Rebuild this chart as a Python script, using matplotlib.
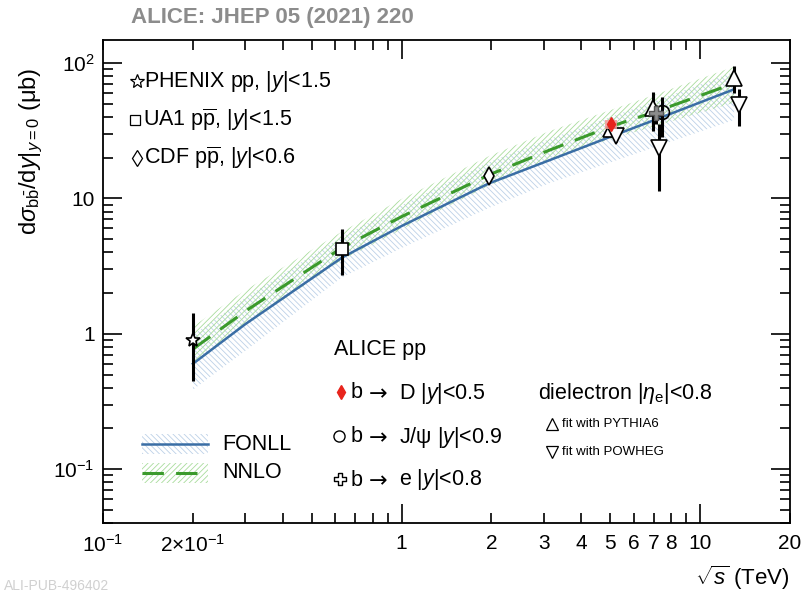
import matplotlib.pyplot as plt
from matplotlib.patches import Rectangle
from matplotlib.ticker import FixedLocator, NullFormatter

plt.rcParams['font.family'] = ['Liberation Sans', 'DejaVu Sans']
plt.rcParams['mathtext.fontset'] = 'custom'
plt.rcParams['mathtext.rm'] = 'Liberation Sans'
plt.rcParams['mathtext.it'] = 'Liberation Sans:italic'
plt.rcParams['mathtext.sf'] = 'Liberation Sans'
plt.rcParams['hatch.linewidth'] = 0.6

# theory curves (sqrt(s) in TeV, cross section in microbarn)
sqrt_s_th = [0.2, 0.3, 0.63, 1.0, 1.96, 3.14, 5.02, 7.0, 13.0]
nnlo = [0.77, 1.47, 4.31, 7.33, 14.9, 22.8, 34.0, 43.3, 70.8]
nnlo_hi = [1.13, 2.10, 5.66, 9.9, 20.5, 31.5, 45.0, 58.0, 94.0]
nnlo_lo = [0.60, 1.16, 3.50, 5.9, 12.4, 19.2, 27.5, 34.0, 51.0]
fonll = [0.60, 1.18, 3.64, 6.25, 12.9, 19.2, 28.6, 37.8, 64.0]
fonll_hi = [0.98, 1.85, 5.20, 8.9, 18.5, 27.5, 40.0, 52.0, 86.0]
fonll_lo = [0.386, 0.75, 2.60, 4.3, 8.5, 13.0, 18.5, 23.8, 38.0]

# previous experiments
phenix_x, phenix_y, phenix_eh, phenix_el = [0.2], [0.90], [0.53], [0.45]
ua1_x, ua1_y, ua1_eh, ua1_el = [0.63], [4.24], [1.71], [1.52]
cdf_x, cdf_y, cdf_e = [1.96], [14.6], [1.5]

# ALICE
bD_x, bD_y, bD_e = [5.02], [35.4], [1.2]
bD_syst_lo, bD_syst_hi = [32.8], [38.0]
jpsi_x, jpsi_y, jpsi_eh, jpsi_el = [7.45], [43.3], [13.0], [15.0]
be_x, be_y, be_e = [7.1], [42.4], [7.0]
pythia_x = [5.02, 6.95, 13.0]
pythia_y = [32.5, 46.4, 77.6]
pythia_e = [3.0, 15.0, 18.0]
powheg_x = [5.23, 7.28, 13.5]
powheg_y = [29.0, 23.4, 49.0]
powheg_e = [3.0, 12.0, 15.0]

x_labels = {0.1: r'10$^{-1}$', 0.2: r'2$\times$10$^{-1}$', 1: '1', 2: '2', 3: '3',
            4: '4', 5: '5', 6: '6', 7: '7', 8: '8', 10: '10', 20: '20'}

open_cross = [(-0.33, 1), (0.33, 1), (0.33, 0.33), (1, 0.33), (1, -0.33), (0.33, -0.33),
              (0.33, -1), (-0.33, -1), (-0.33, -0.33), (-1, -0.33), (-1, 0.33),
              (-0.33, 0.33), (-0.33, 1)]

W, H = 811, 594
fig = plt.figure(figsize=(W / 100, H / 100), dpi=100)
L, R, T, B = 103, 790, 40, 523
ax = fig.add_axes([L / W, 1 - B / H, (R - L) / W, (B - T) / H])


def apos(px, py):
    return (px - L) / (R - L), (B - py) / (B - T)


blue = '#3a6ea5'
blue_h = '#bcd1e7'
green = '#3b9a2c'
green_h = '#a9dc9c'
red = '#e8241c'

# theory bands
ax.fill_between(sqrt_s_th, fonll_lo, fonll_hi, facecolor='none', edgecolor=blue_h,
                hatch='\\\\\\\\\\\\', linewidth=0, zorder=1)
ax.fill_between(sqrt_s_th, nnlo_lo, nnlo_hi, facecolor='none', edgecolor=green_h,
                hatch='//////', linewidth=0, zorder=1.5)
ax.plot(sqrt_s_th, fonll, color=blue, lw=1.8, zorder=2)
ax.plot(sqrt_s_th, nnlo, color=green, lw=2.2, dashes=(7, 4), zorder=2.5)

ek = dict(fmt='none', ecolor='black', elinewidth=2.2, capsize=0, zorder=3)
mk = dict(ls='none', mfc='white', mec='black', mew=1.2, zorder=4)

ax.errorbar(phenix_x, phenix_y, yerr=[phenix_el, phenix_eh], **ek)
ax.plot(phenix_x, phenix_y, marker='*', ms=10, **mk)
ax.errorbar(ua1_x, ua1_y, yerr=[ua1_el, ua1_eh], **ek)
ax.plot(ua1_x, ua1_y, marker='s', ms=9, **mk)
ax.errorbar(cdf_x, cdf_y, yerr=cdf_e, **ek)
ax.plot(cdf_x, cdf_y, marker='d', ms=9, **mk)

ax.errorbar(pythia_x, pythia_y, yerr=pythia_e, **ek)
ax.plot(pythia_x, pythia_y, marker='^', ms=11, **mk)
ax.errorbar(powheg_x, powheg_y, yerr=powheg_e, **ek)
ax.plot(powheg_x, powheg_y, marker='v', ms=11, **mk)
ax.errorbar(jpsi_x, jpsi_y, yerr=[jpsi_el, jpsi_eh], **ek)
ax.plot(jpsi_x, jpsi_y, marker='o', ms=10, mfc='none', mec='black', mew=1.2, ls='none', zorder=4)
ax.errorbar(be_x, be_y, yerr=be_e, **ek)
ax.plot(be_x, be_y, marker=open_cross, ms=10, ls='none', mfc='#8c8c8c', mec='#555555', mew=1, zorder=4)

for x, lo, hi in zip(bD_x, bD_syst_lo, bD_syst_hi):
    ax.add_patch(Rectangle((x / 1.047, lo), x * 1.047 - x / 1.047, hi - lo,
                           facecolor='#f39a9a', edgecolor='none', alpha=0.85, zorder=4.5))
ax.errorbar(bD_x, bD_y, yerr=bD_e, fmt='none', ecolor=red, elinewidth=2, capsize=0, zorder=5)
ax.plot(bD_x, bD_y, marker='d', ms=7, ls='none', color=red, zorder=5)

ax.set_xscale('log')
ax.set_yscale('log')
ax.set_xlim(0.1, 20)
ax.set_ylim(0.04, 148)

ax.xaxis.set_major_locator(FixedLocator(list(x_labels.keys())))
ax.set_xticklabels(list(x_labels.values()))
ax.xaxis.set_minor_locator(FixedLocator([0.3, 0.4, 0.5, 0.6, 0.7, 0.8, 0.9, 9]))
ax.xaxis.set_minor_formatter(NullFormatter())
ax.yaxis.set_major_locator(FixedLocator([0.1, 1, 10, 100]))
ax.set_yticklabels([r'10$^{-1}$', '1', '10', r'10$^{2}$'])
ax.yaxis.set_minor_locator(FixedLocator(
    [m * 10.0 ** e for e in range(-2, 3) for m in range(2, 10)]))
ax.yaxis.set_minor_formatter(NullFormatter())

ax.tick_params(which='both', direction='in', top=True, right=True, width=1.2,
               labelsize=15, colors='black')
ax.tick_params(axis='y', which='major', length=14, pad=6)
ax.tick_params(axis='y', which='minor', length=7)
ax.tick_params(axis='x', which='major', length=7, pad=8)
ax.tick_params(axis='x', which='minor', length=7)
for t in ax.xaxis.get_major_ticks():
    if t.get_loc() in (1, 10):
        t.tick1line.set_markersize(14)
        t.tick2line.set_markersize(14)
for s in ax.spines.values():
    s.set_linewidth(1.3)

ax.set_ylabel(r'd$\sigma_{\mathrm{b\bar{b}}}$/d$\mathit{y}|_{\mathit{y}=0}$ (μb)',
              fontsize=17, labelpad=8)
ax.yaxis.set_label_coords(-0.085, 0.77)
ax.set_xlabel(r'$\sqrt{\mathit{s}}$ (TeV)', fontsize=16, labelpad=2)
ax.xaxis.set_label_coords(1.0, -0.085)
ax.xaxis.label.set_horizontalalignment('right')

# upper-left legend
tk = dict(transform=ax.transAxes, fontsize=15.5, va='center', ha='left')
lm = dict(transform=ax.transAxes, ls='none', mfc='white', mec='black', mew=0.9, clip_on=False)
ax.plot(*apos(137, 81), marker='*', ms=10, **lm)
ax.text(*apos(144, 81), 'PHENIX pp, |$\\mathit{y}$|<1.5', **tk)
ax.plot(*apos(135, 120), marker='s', ms=7, **lm)
ax.text(*apos(143, 120), 'UA1 p$\\mathrm{\\overline{p}}$, |$\\mathit{y}$|<1.5', **tk)
ax.plot(*apos(137, 158), marker='d', ms=8, **lm)
ax.text(*apos(144, 158), 'CDF p$\\mathrm{\\overline{p}}$, |$\\mathit{y}$|<0.6', **tk)

# theory legend
for py, col, hc, hatch, lab, dash in [(444, blue, blue_h, '\\\\\\\\\\\\', 'FONLL', None),
                                       (473, green, green_h, '//////', 'NNLO', (7, 4))]:
    x0, y0 = apos(142, py + 10)
    x1, y1 = apos(208, py - 10)
    ax.add_patch(Rectangle((x0, y0), x1 - x0, y1 - y0, transform=ax.transAxes,
                           facecolor='none', edgecolor=hc, hatch=hatch, linewidth=0))
    xa, ya = apos(142, py)
    xb, _ = apos(208, py)
    if dash:
        ax.plot([xa, xb], [ya, ya], color=col, lw=2.2, dashes=dash, transform=ax.transAxes)
    else:
        ax.plot([xa, xb], [ya, ya], color=col, lw=1.8, transform=ax.transAxes)
    ax.text(*apos(222, py), lab, **tk)

# ALICE legend
ax.text(*apos(334, 349), 'ALICE pp', **tk)
rows = [(393, 'D |$\\mathit{y}$|<0.5'), (437, 'J/ψ |$\\mathit{y}$|<0.9'),
        (480, 'e |$\\mathit{y}$|<0.8')]
for py, rest in rows:
    ax.text(*apos(351, py), 'b', **tk)
    ax.text(*apos(369, py + 1), '→', transform=ax.transAxes, fontsize=16,
            family='DejaVu Sans', va='center', ha='left')
    ax.text(*apos(399, py), rest, **tk)
ax.plot(*apos(341, 392), marker='d', ms=7, ls='none', color=red,
        transform=ax.transAxes)
ax.plot(*apos(339, 436), marker='o', ms=8, ls='none', mfc='white', mec='black', mew=1,
        transform=ax.transAxes)
ax.plot(*apos(340, 479), marker=open_cross, ms=8, ls='none', mfc='white', mec='black', mew=1,
        transform=ax.transAxes)
ax.text(*apos(538, 393), r'dielectron |$\mathit{\eta}_{\mathrm{e}}$|<0.8', **tk)
ax.plot(*apos(552, 424), marker='^', ms=8, ls='none', mfc='white', mec='black', mew=0.9,
        transform=ax.transAxes)
ax.text(*apos(562, 424), 'fit with PYTHIA6', transform=ax.transAxes, fontsize=9.5,
        va='center', ha='left')
ax.plot(*apos(552, 452), marker='v', ms=8, ls='none', mfc='white', mec='black', mew=0.9,
        transform=ax.transAxes)
ax.text(*apos(562, 452), 'fit with POWHEG', transform=ax.transAxes, fontsize=9.5,
        va='center', ha='left')

fig.text(131 / W, 1 - 17 / H, 'ALICE: JHEP 05 (2021) 220', color='#8c8c8c',
         fontsize=16, fontweight='bold', va='center', ha='left')
fig.text(4 / W, 1 / H, 'ALI-PUB-496402', color='#d0d0d0', fontsize=10,
         va='bottom', ha='left')

fig.savefig('out.png', dpi=100)
